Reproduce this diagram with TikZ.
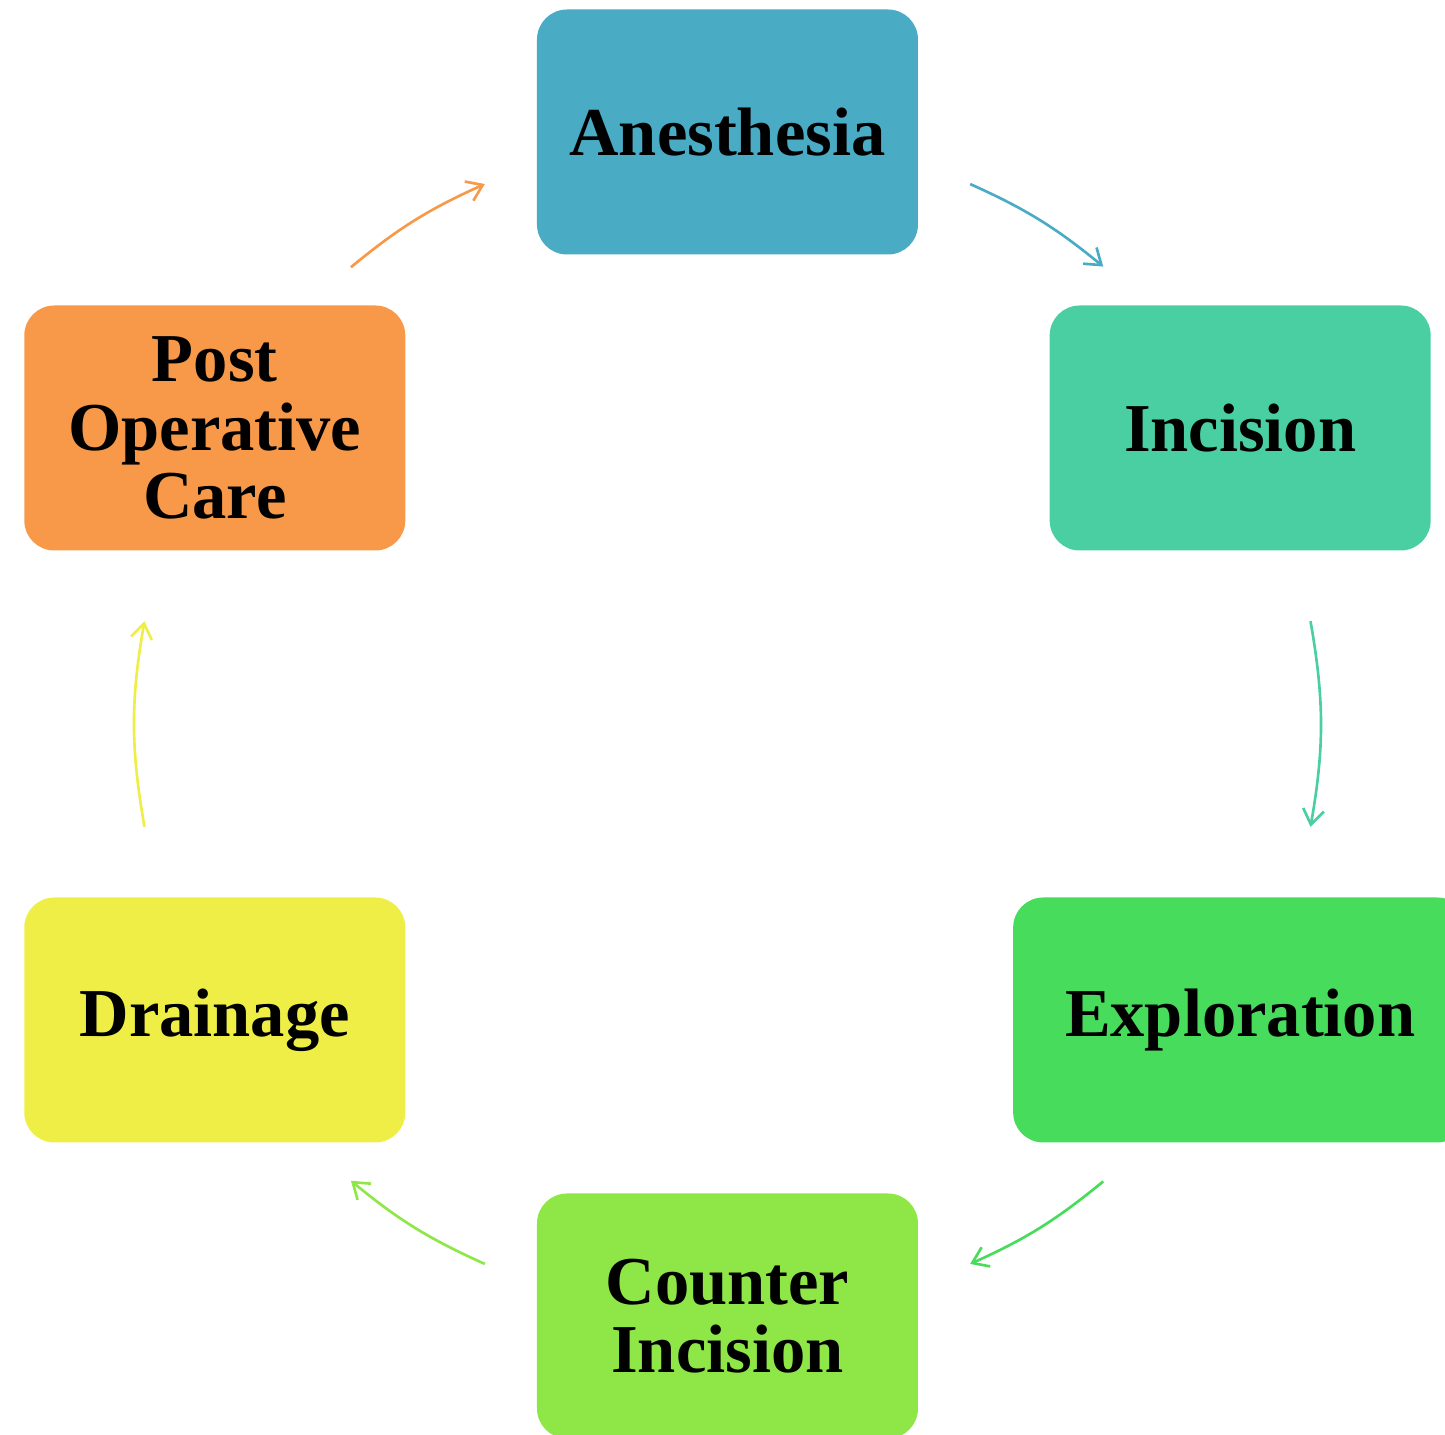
\documentclass[tikz,border=0pt]{standalone}
\usepackage{fontspec}
\setmainfont{Liberation Serif}
\usetikzlibrary{arrows.meta, calc}

\definecolor{anestblue}{HTML}{4AABC4}
\definecolor{incisteal}{HTML}{4ACFA3}
\definecolor{explgreen}{HTML}{48DC5C}
\definecolor{countlime}{HTML}{8EE647}
\definecolor{drainyellow}{HTML}{EEEE47}
\definecolor{postorange}{HTML}{F79948}

\tikzset{
  stagebox/.style={rounded corners=0.3cm, minimum width=3.81cm, minimum height=2.45cm,
    align=center, inner sep=0pt, font=\fontsize{19.5}{19.4}\selectfont\bfseries},
  flow/.style={-{Straight Barb[length=1.5mm,width=2.1mm]}, line width=0.75pt}
}

\begin{document}
\begin{tikzpicture}
\useasboundingbox (-7.275,-7.11) rectangle (7.175,7.24);
\coordinate (hub) at (0,0);
% stages on the circle
\node[stagebox, fill=anestblue] (anest) at (90:5.92) {Anesthesia};
\node[stagebox, fill=incisteal] (incis) at (30:5.92) {Incision};
\node[stagebox, fill=explgreen, minimum width=4.54cm] (explor) at (-30:5.92) {Exploration};
\node[stagebox, fill=countlime] (count) at (-90:5.92) {Counter\\Incision};
\node[stagebox, fill=drainyellow] (drain) at (-150:5.92) {Drainage};
\node[stagebox, fill=postorange] (post) at (150:5.92) {Post\\Operative\\Care};
% arrow ends
\foreach \name/\a/\b in {anest/65.8/50.6, incis/10/-10, explor/-50.6/-65.8,
    count/-114.2/-129.5, drain/-170/-190, post/129.5/114.2}
{
	\coordinate (\name-out) at ($(hub)+(\a:5.92)$);
	\coordinate (\name-end) at ($(hub)+(\b:5.92)$);
}
\foreach \name/\col/\bend in {anest/anestblue/7.6, incis/incisteal/10, explor/explgreen/7.6,
    count/countlime/7.65, drain/drainyellow/10, post/postorange/7.65}
	\draw[flow,\col] (\name-out) to[bend left=\bend] (\name-end);
\end{tikzpicture}
\end{document}
